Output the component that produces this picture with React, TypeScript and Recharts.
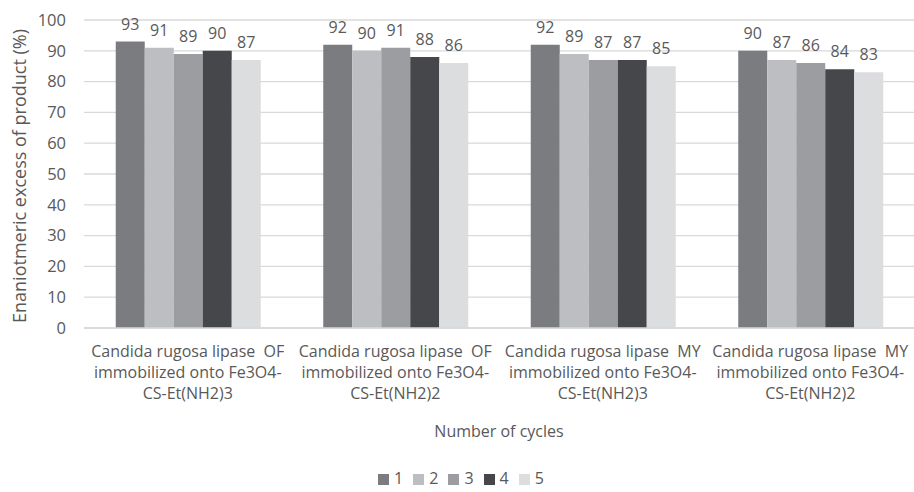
import { BarChart, Bar, XAxis, YAxis, CartesianGrid, Legend, LabelList, Label } from "recharts";

const CATEGORY_LINES = [
  ["Candida rugosa lipase\u00a0\u00a0OF", "immobilized onto Fe3O4-", "CS-Et(NH2)3"],
  ["Candida rugosa lipase\u00a0\u00a0OF", "immobilized onto Fe3O4-", "CS-Et(NH2)2"],
  ["Candida rugosa lipase\u00a0\u00a0MY", "immobilized onto Fe3O4-", "CS-Et(NH2)3"],
  ["Candida rugosa lipase\u00a0\u00a0MY", "immobilized onto Fe3O4-", "CS-Et(NH2)2"],
];

const CYCLE_1 = [93, 92, 92, 90];
const CYCLE_2 = [91, 90, 89, 87];
const CYCLE_3 = [89, 91, 87, 86];
const CYCLE_4 = [90, 88, 87, 84];
const CYCLE_5 = [87, 86, 85, 83];

const Y_TICKS = [0, 10, 20, 30, 40, 50, 60, 70, 80, 90, 100];

const SERIES = [
  { key: "c1", name: "1", values: CYCLE_1, color: "#7b7c80" },
  { key: "c2", name: "2", values: CYCLE_2, color: "#bdbec2" },
  { key: "c3", name: "3", values: CYCLE_3, color: "#9c9da1" },
  { key: "c4", name: "4", values: CYCLE_4, color: "#46474a" },
  { key: "c5", name: "5", values: CYCLE_5, color: "#dcdddf" },
];

const data = CATEGORY_LINES.map((lines, i) => {
  const row: Record<string, any> = { name: lines.join(" ") };
  SERIES.forEach((s) => {
    row[s.key] = s.values[i];
  });
  return row;
});

const FONT = "'Open Sans', sans-serif";
const TEXT = "#595959";

function CategoryTick(props: any) {
  const { x, y, index } = props;
  const lines = CATEGORY_LINES[index] ?? [];
  return (
    <text x={x} y={y} textAnchor="middle" fill={TEXT} fontSize={16} fontFamily={FONT}>
      {lines.map((l, i) => (
        <tspan key={i} x={x} dy={21}>
          {l}
        </tspan>
      ))}
    </text>
  );
}

function YTitle(props: any) {
  const { viewBox } = props;
  const cy = viewBox.y + viewBox.height / 2 + 2;
  const cx = 19;
  return (
    <text
      x={cx}
      y={cy}
      transform={`rotate(-90, ${cx}, ${cy})`}
      textAnchor="middle"
      dominantBaseline="central"
      fill={TEXT}
      fontSize={18}
      fontFamily={FONT}
    >
      Enaniotmeric excess of product (%)
    </text>
  );
}

export default function App() {
  return (
    <div style={{ position: "absolute", left: 0, top: 0, width: 914, height: 492, overflow: "hidden", fontFamily: FONT }}>
      <BarChart
        width={914}
        height={492}
        data={data}
        margin={{ top: 20, right: 0, left: 0, bottom: 33 }}
        barCategoryGap="15.3%"
        barGap={0}
      >
        <CartesianGrid vertical={false} stroke="#d9d9d9" strokeWidth={1.3} />
        <XAxis
          dataKey="name"
          height={109}
          tickLine={false}
          axisLine={{ stroke: "#d9d9d9", strokeWidth: 1.5 }}
          tick={<CategoryTick />}
          interval={0}
        >
          <Label
            value="Number of cycles"
            position="insideBottom"
            offset={0}
            fill={TEXT}
            fontSize={16}
            fontFamily={FONT}
          />
        </XAxis>
        <YAxis
          width={84}
          domain={[0, 100]}
          ticks={Y_TICKS}
          tickLine={false}
          axisLine={false}
          tickSize={0}
          tickMargin={18}
          tick={{ fill: TEXT, fontSize: 16.5, fontFamily: FONT }}
        >
          <Label content={<YTitle />} />
        </YAxis>
        <Legend
          verticalAlign="bottom"
          iconType="square"
          iconSize={11}
          wrapperStyle={{ bottom: 3, left: 9, fontSize: 16, fontFamily: FONT }}
          formatter={(v) => <span style={{ color: TEXT, marginLeft: 1 }}>{v}</span>}
        />
        {SERIES.map((s) => (
          <Bar key={s.key} dataKey={s.key} name={s.name} fill={s.color} isAnimationActive={false}>
            <LabelList
              dataKey={s.key}
              position="top"
              offset={12}
              fill={TEXT}
              fontSize={16}
              fontFamily={FONT}
            />
          </Bar>
        ))}
      </BarChart>
    </div>
  );
}
